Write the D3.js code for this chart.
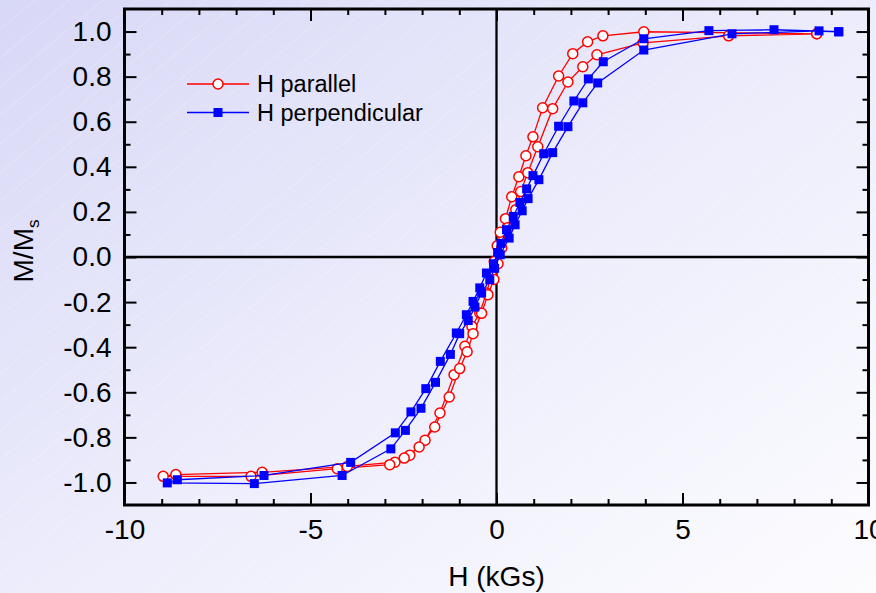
<!DOCTYPE html>
<html>
<head>
<meta charset="utf-8">
<script src="https://cdn.jsdelivr.net/npm/d3@7"></script>
<style>
    body { margin: 0; }
    svg { display: block; font-family: "Liberation Sans", Arial, sans-serif; }
</style>
</head>
<body>
<svg id="chart"></svg>
<script>
// tick values
const xMajorTicks = [-10, -5, 0, 5, 10];
const xMinorTicks = [-9, -8, -7, -6, -4, -3, -2, -1, 1, 2, 3, 4, 6, 7, 8, 9];
const yMajorTicks = [-1.0, -0.8, -0.6, -0.4, -0.2, 0.0, 0.2, 0.4, 0.6, 0.8, 1.0];
const yMinorTicks = [-0.9, -0.7, -0.5, -0.3, -0.1, 0.1, 0.3, 0.5, 0.7, 0.9];

const seriesNames = ["H parallel", "H perpendicular"];

// H parallel: field (kGs) and M/Ms, in loop order (down branch then up branch)
const parallelH = [8.61, 3.96, 2.86, 2.45, 2.05, 1.67, 1.24, 0.98, 0.79, 0.60, 0.41, 0.24, 0.10, 0.02, -0.06, -0.14,
    -0.27, -0.45, -0.66, -0.85, -1.14, -1.52, -1.92, -2.33, -2.73, -4.01, -6.30, -8.62,
    -8.96, -6.60, -4.28, -2.87, -2.48, -2.08, -1.66, -1.27, -0.99, -0.79, -0.63, -0.40, -0.23, -0.07, 0.04, 0.14,
    0.30, 0.52, 0.65, 0.84, 1.11, 1.51, 1.92, 2.32, 2.70, 3.94, 6.24, 8.61];
const parallelM = [0.990, 0.999, 0.981, 0.955, 0.902, 0.803, 0.662, 0.533, 0.449, 0.356, 0.267, 0.170, 0.110, 0.050, -0.020, -0.080,
    -0.160, -0.248, -0.308, -0.396, -0.522, -0.692, -0.813, -0.879, -0.910, -0.929, -0.955, -0.965,
    -0.973, -0.973, -0.939, -0.921, -0.892, -0.843, -0.754, -0.621, -0.495, -0.420, -0.340, -0.250, -0.167, -0.100, -0.030, 0.040,
    0.130, 0.210, 0.290, 0.374, 0.489, 0.658, 0.776, 0.844, 0.897, 0.950, 0.981, 0.990];

// H perpendicular
const perpH = [9.20, 7.46, 5.71, 3.96, 2.87, 2.47, 2.08, 1.67, 1.27, 0.98, 0.81, 0.63, 0.45, 0.27, 0.12, 0.03,
    -0.08, -0.27, -0.45, -0.63, -0.81, -1.08, -1.51, -1.90, -2.30, -2.72, -3.92, -6.25, -8.58,
    -8.85, -6.51, -4.15, -2.84, -2.45, -2.03, -1.64, -1.24, -0.99, -0.76, -0.58, -0.40, -0.18, -0.05, 0.10,
    0.34, 0.50, 0.69, 0.85, 1.14, 1.51, 1.92, 2.32, 2.72, 3.96, 6.33, 8.67, 9.20];
const perpM = [0.999, 1.008, 1.004, 0.968, 0.866, 0.790, 0.692, 0.580, 0.458, 0.361, 0.302, 0.242, 0.180, 0.121, 0.060, 0.020,
    -0.030, -0.071, -0.137, -0.197, -0.256, -0.337, -0.463, -0.584, -0.687, -0.780, -0.911, -0.969, -0.988,
    -1.002, -1.005, -0.969, -0.851, -0.769, -0.671, -0.556, -0.432, -0.340, -0.282, -0.222, -0.160, -0.101, -0.050, 0.010,
    0.084, 0.143, 0.205, 0.259, 0.343, 0.463, 0.578, 0.684, 0.772, 0.918, 0.990, 1.003, 0.999];

const containerWidth = 876;
const containerHeight = 593;
const margin = { top: 9, right: 7.5, bottom: 88, left: 124.5 };
const width = containerWidth - margin.left - margin.right;
const height = containerHeight - margin.top - margin.bottom;

const svg = d3.select("#chart")
    .attr("width", containerWidth)
    .attr("height", containerHeight);

// background gradient + faint diagonal streaks
const defs = svg.append("defs");
const grad = defs.append("linearGradient")
    .attr("id", "bg")
    .attr("x1", "0%").attr("y1", "0%")
    .attr("x2", "100%").attr("y2", "100%");
grad.append("stop").attr("offset", "0%").attr("stop-color", "#d8d8f7");
grad.append("stop").attr("offset", "55%").attr("stop-color", "#eeeefc");
grad.append("stop").attr("offset", "100%").attr("stop-color", "#fcfcff");

const pat = defs.append("pattern")
    .attr("id", "streaks")
    .attr("width", 22).attr("height", 22)
    .attr("patternUnits", "userSpaceOnUse")
    .attr("patternTransform", "rotate(-40)");
pat.append("line")
    .attr("x1", 0).attr("y1", 0).attr("x2", 22).attr("y2", 0)
    .attr("stroke", "#ffffff").attr("stroke-opacity", 0.35).attr("stroke-width", 1);

svg.append("rect").attr("width", containerWidth).attr("height", containerHeight).attr("fill", "url(#bg)");
svg.append("rect").attr("width", containerWidth).attr("height", containerHeight).attr("fill", "url(#streaks)");

const xScale = d3.scaleLinear().domain([-10, 10]).range([0, width]);
const yScale = d3.scaleLinear().domain([-1.1, 1.1]).range([height, 0]);

const chart = svg.append("g")
    .attr("transform", `translate(${margin.left}, ${margin.top})`);

const fmtX = (d) => String(d);
const fmtY = (d) => d.toFixed(1);

// major / minor ticks on all four sides, pointing inward
const drawAxis = (axis, transform) => {
    const g = chart.append("g")
        .attr("class", "axis")
        .attr("transform", transform)
        .call(axis);
    g.select(".domain").remove();
    g.selectAll(".tick line").attr("stroke", "#000").attr("stroke-width", 2);
    g.selectAll(".tick text").attr("fill", "#000").attr("font-size", 28);
    return g;
};

drawAxis(d3.axisBottom(xScale).tickValues(xMajorTicks).tickSize(-12).tickPadding(14).tickFormat(fmtX),
    `translate(0, ${height})`)
    .attr("font-family", null);
drawAxis(d3.axisBottom(xScale).tickValues(xMinorTicks).tickSize(-6).tickFormat(""), `translate(0, ${height})`);
drawAxis(d3.axisTop(xScale).tickValues(xMajorTicks).tickSize(-12).tickFormat(""), "translate(0, 0)");
drawAxis(d3.axisTop(xScale).tickValues(xMinorTicks).tickSize(-6).tickFormat(""), "translate(0, 0)");

drawAxis(d3.axisLeft(yScale).tickValues(yMajorTicks).tickSize(-12).tickPadding(13).tickFormat(fmtY), "translate(0, 0)")
    .attr("font-family", null);
drawAxis(d3.axisLeft(yScale).tickValues(yMinorTicks).tickSize(-6).tickFormat(""), "translate(0, 0)");
drawAxis(d3.axisRight(yScale).tickValues(yMajorTicks).tickSize(-12).tickFormat(""), `translate(${width}, 0)`);
drawAxis(d3.axisRight(yScale).tickValues(yMinorTicks).tickSize(-6).tickFormat(""), `translate(${width}, 0)`);

// zero lines
chart.append("line")
    .attr("x1", xScale(0)).attr("x2", xScale(0))
    .attr("y1", 0).attr("y2", height)
    .attr("stroke", "#000").attr("stroke-width", 2.3);
chart.append("line")
    .attr("x1", 0).attr("x2", width)
    .attr("y1", yScale(0)).attr("y2", yScale(0))
    .attr("stroke", "#000").attr("stroke-width", 2.3);

// frame
chart.append("rect")
    .attr("width", width).attr("height", height)
    .attr("fill", "none")
    .attr("stroke", "#000").attr("stroke-width", 3);

// series
const parallelData = parallelH.map((h, i) => ({ h: h, m: parallelM[i] }));
const perpData = perpH.map((h, i) => ({ h: h, m: perpM[i] }));

const line = d3.line()
    .x((d) => xScale(d.h))
    .y((d) => yScale(d.m));

chart.append("path")
    .datum(parallelData)
    .attr("fill", "none")
    .attr("stroke", "#ff0000")
    .attr("stroke-width", 1.3)
    .attr("d", line);

chart.selectAll(".pt-par")
    .data(parallelData)
    .join("circle")
    .attr("class", "pt-par")
    .attr("cx", (d) => xScale(d.h))
    .attr("cy", (d) => yScale(d.m))
    .attr("r", 5)
    .attr("fill", "#fff")
    .attr("stroke", "#ff0000")
    .attr("stroke-width", 1.5);

chart.append("path")
    .datum(perpData)
    .attr("fill", "none")
    .attr("stroke", "#0000ff")
    .attr("stroke-width", 1.3)
    .attr("d", line);

chart.selectAll(".pt-perp")
    .data(perpData)
    .join("rect")
    .attr("class", "pt-perp")
    .attr("x", (d) => xScale(d.h) - 4.5)
    .attr("y", (d) => yScale(d.m) - 4.5)
    .attr("width", 9)
    .attr("height", 9)
    .attr("fill", "#0000ff");

// legend
const legend = svg.append("g").attr("transform", "translate(187, 84)");
seriesNames.forEach((name, i) => {
    const row = legend.append("g").attr("transform", `translate(0, ${i * 28.5})`);
    const color = i === 0 ? "#ff0000" : "#0000ff";
    row.append("line")
        .attr("x1", 0).attr("x2", 62)
        .attr("stroke", color).attr("stroke-width", 1.3);
    if (i === 0) {
        row.append("circle").attr("cx", 31).attr("r", 5)
            .attr("fill", "#fff").attr("stroke", color).attr("stroke-width", 1.5);
    } else {
        row.append("rect").attr("x", 26.5).attr("y", -4.5).attr("width", 9).attr("height", 9)
            .attr("fill", color);
    }
    row.append("text")
        .attr("x", 70)
        .attr("dy", "0.36em")
        .attr("font-size", 23.5)
        .attr("fill", "#000")
        .text(name);
});

// axis titles
svg.append("text")
    .attr("x", margin.left + xScale(0))
    .attr("y", 586)
    .attr("text-anchor", "middle")
    .attr("font-size", 28)
    .attr("fill", "#000")
    .text("H (kGs)");

const yTitle = svg.append("text")
    .attr("transform", `translate(33, ${margin.top + yScale(0) - 6}) rotate(-90)`)
    .attr("text-anchor", "middle")
    .attr("font-size", 28)
    .attr("fill", "#000");
yTitle.append("tspan").text("M/M");
yTitle.append("tspan").attr("font-size", 17).attr("dy", 6).text("s");
</script>
</body>
</html>
